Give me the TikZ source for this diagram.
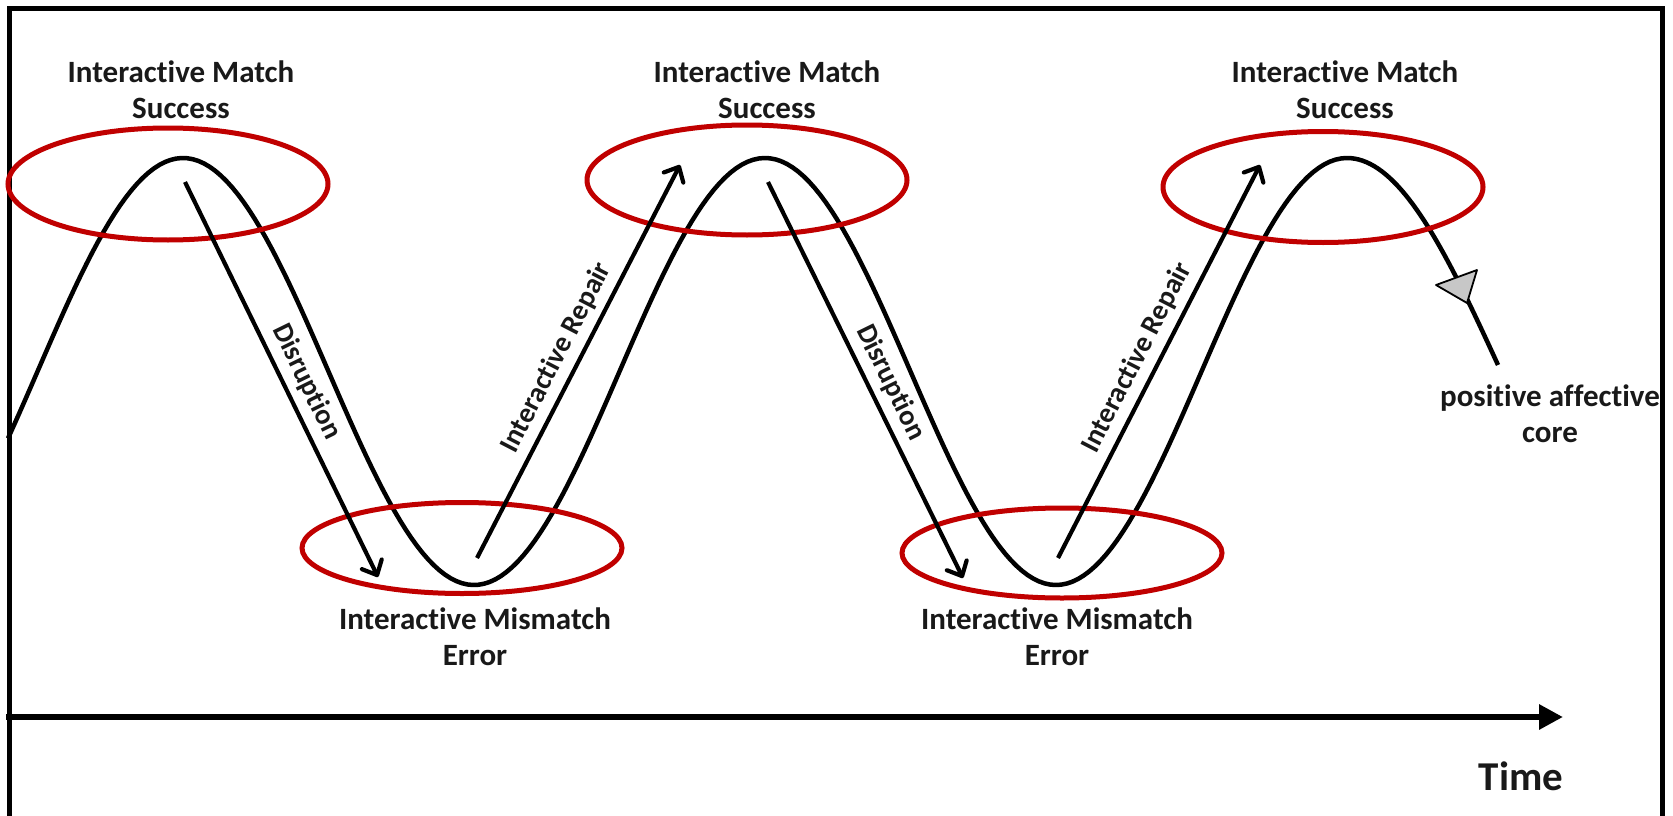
\documentclass[tikz,border=0pt]{standalone}
\usepackage{fontspec}
\setmainfont{Carlito}[Ligatures=NoCommon]
\usetikzlibrary{arrows.meta,shapes.geometric}
\definecolor{ovalred}{RGB}{192,0,0}
\definecolor{ink}{RGB}{25,25,25}
\tikzset{
  frameline/.style={line width=5pt, line cap=rect},
  wave/.style={line width=4.5pt, line join=round},
  flow/.style={line width=4.2pt, -{Straight Barb[length=12pt,width=22pt,line join=round,line cap=round]}},
  oval/.style={ellipse, draw=ovalred, line width=5pt, inner sep=0pt},
  lbl/.style={font=\bfseries\fontsize{31}{36}\selectfont, text=ink, align=center, inner sep=0pt},
  along/.style={font=\bfseries\fontsize{28.5}{32}\selectfont, text=ink, inner sep=0pt, sloped, above=7pt},
  timeaxis/.style={line width=6.5pt, -{Triangle[length=24pt,width=24pt]}}
}
\begin{document}
\begin{tikzpicture}[x=1pt,y=-1pt]
\useasboundingbox (0,0) rectangle (1673,816);

% open frame
\draw[frameline] (9,816) -- (9,9) -- (1662,9) -- (1662,816);

% time axis
\coordinate (t0) at (6,717);
\coordinate (t1) at (1563,717);
\draw[timeaxis] (t0) -- (t1);
\node[lbl, font=\bfseries\fontsize{41}{46}\selectfont, anchor=base] (time) at (1521,790) {Time};

% the oscillating course (period 582, last quarter slightly stretched)
\draw[wave] plot[domain=8:1347, samples=240] (\x, {371.5-213.5*cos(0.618557*(\x-183))})
  -- plot[domain=1347:1498, samples=40] (\x, {371.5-213.5*cos(0.584416*(\x-1347))});

% marker on the descending end
\filldraw[fill=black!22, draw=black, line width=1.8pt, line join=round]
  (1436,285) -- (1477,270) -- (1467,303) -- cycle;

% success and error regions
\node[oval, minimum width=320pt, minimum height=112pt] (s1) at (168,184) {};
\node[oval, minimum width=320pt, minimum height=110pt] (s2) at (747,180) {};
\node[oval, minimum width=320pt, minimum height=111pt] (s3) at (1323,187) {};
\node[oval, minimum width=320pt, minimum height=91pt] (e1) at (462,548) {};
\node[oval, minimum width=320pt, minimum height=90pt] (e2) at (1062,553) {};

% region labels (base anchor sits on the last line)
\node[lbl, anchor=base] (ls1) at (181,118) {Interactive Match\\Success};
\node[lbl, anchor=base] (ls2) at (767,118) {Interactive Match\\Success};
\node[lbl, anchor=base] (ls3) at (1345,118) {Interactive Match\\Success};
\node[lbl, anchor=base] (le1) at (475,665) {Interactive Mismatch\\Error};
\node[lbl, anchor=base] (le2) at (1057,665) {Interactive Mismatch\\Error};
\node[lbl, anchor=base] (core) at (1550,442) {positive affective\\core};

% transitions
\coordinate (d1s) at (185,182);  \coordinate (d1e) at (378,577);
\coordinate (r1s) at (477,558);  \coordinate (r1e) at (680,165);
\coordinate (d2s) at (768,182);  \coordinate (d2e) at (963,578);
\coordinate (r2s) at (1058,558); \coordinate (r2e) at (1260,165);
\draw[flow] (d1s) -- node[along, pos=0.53] (td1) {Disruption} (d1e);
\draw[flow] (r1s) -- node[along, pos=0.485] (tr1) {Interactive Repair} (r1e);
\draw[flow] (d2s) -- node[along, pos=0.53] (td2) {Disruption} (d2e);
\draw[flow] (r2s) -- node[along, pos=0.485] (tr2) {Interactive Repair} (r2e);
\end{tikzpicture}
\end{document}
